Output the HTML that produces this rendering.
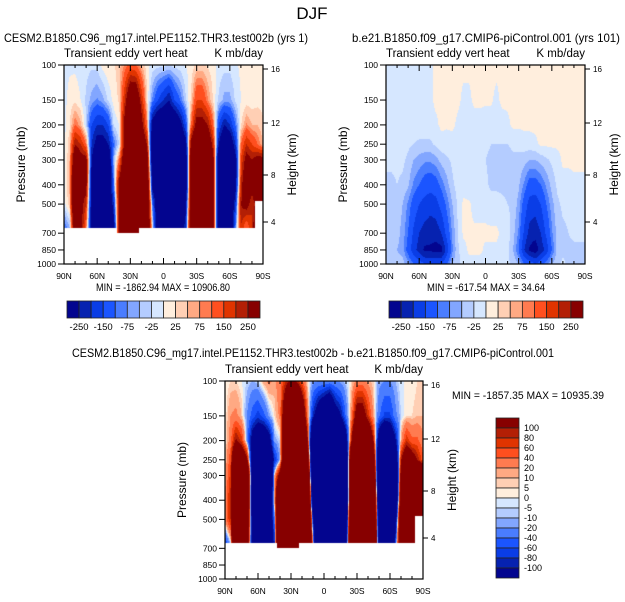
<!DOCTYPE html>
<html><head><meta charset="utf-8">
<style>
body{margin:0;background:#fff;}
#root{position:relative;width:625px;height:602px;overflow:hidden;font-family:"Liberation Sans",sans-serif;color:#000;}
svg text{font-family:"Liberation Sans",sans-serif;}
</style></head>
<body>
<div id="root">
<svg id="svg" width="625" height="602" xmlns="http://www.w3.org/2000/svg" style="position:absolute;left:0;top:0">
<text x="312" y="19" font-size="17" text-anchor="middle">DJF</text>
</svg>
</div>
<script>
// ---------- data ----------
const lats = [90,85,80,75,70,65,60,55,50,45,40,35,30,25,20,15,10,5,0,-5,-10,-15,-20,-25,-30,-35,-40,-45,-50,-55,-60,-65,-70,-75,-80,-85,-90];
const levels1 = [100,150,200,250,300,400,500,650];
const field1 = [
[-10,-10,-10,-10,-10,-10,-15,-100],
[-5,10,20,40,50,60,40,-50],
[-5,15,100,250,400,500,500,400],
[-10,0,60,200,300,300,300,300],
[-15,-30,-30,100,300,300,200,100],
[-20,-60,-150,-200,-250,-300,-300,-300],
[-15,-80,-200,-300,-400,-400,-400,-400],
[10,-60,-200,-300,-400,-400,-400,-400],
[20,-20,-150,-250,-400,-400,-400,-400],
[20,10,-20,-100,-50,-100,-200,-300],
[40,30,0,-20,100,300,300,300],
[80,200,300,300,400,500,500,500],
[120,400,500,500,500,500,500,500],
[100,400,500,500,500,500,500,500],
[50,200,300,400,500,500,500,500],
[10,30,100,250,400,500,500,500],
[-10,-80,-300,-400,-400,-300,-100,0],
[-15,-150,-400,-400,-400,-400,-400,-400],
[-15,-200,-400,-400,-400,-400,-400,-400],
[-20,-250,-400,-400,-400,-400,-400,-400],
[-15,-150,-400,-400,-400,-400,-400,-400],
[-10,-100,-300,-400,-400,-400,-400,-400],
[0,-30,-150,-300,-400,-400,-300,-200],
[10,30,100,300,400,400,400,400],
[30,150,300,500,500,500,500,500],
[30,150,300,500,500,500,500,500],
[20,80,250,400,400,400,400,400],
[10,20,100,200,300,300,300,300],
[-10,-30,-150,-250,-400,-400,-400,-400],
[-15,-60,-250,-400,-400,-400,-400,-400],
[-15,-60,-200,-350,-400,-400,-400,-400],
[-5,-20,-100,-200,-300,-300,-200,-100],
[5,0,20,100,150,200,250,200],
[5,10,80,200,300,400,300,100],
[5,10,50,150,250,300,200,200],
[10,15,50,100,300,400,300,400],
[10,15,30,50,300,400,400,400]];
const bottomP1 = [660,660,660,660,660,660,660,660,660,660,700,700,700,700,660,660,660,660,660,660,660,660,660,660,660,660,660,660,660,660,660,660,660,660,660,480,480];
const levels2 = [100,150,200,250,300,400,500,700,850,1000];
const field2 = [
[-10,-10,-10,-15,-20,-30,-40,-40,-50,-30],
[-10,-10,-10,-15,-20,-30,-40,-50,-40,-30],
[-10,-10,-10,-15,-20,-25,-30,-40,-50,-40],
[-10,-10,-10,-15,-20,-30,-50,-60,-60,-40],
[-10,-10,-10,-20,-30,-45,-80,-100,-120,-60],
[-10,-10,-15,-25,-50,-80,-120,-160,-180,-100],
[-10,-10,-10,-30,-60,-100,-150,-200,-220,-120],
[-5,-10,-10,-30,-70,-120,-170,-220,-260,-150],
[-5,-5,-10,-30,-70,-130,-180,-230,-260,-150],
[5,5,-5,-20,-60,-120,-170,-230,-270,-150],
[5,5,5,-10,-40,-90,-130,-200,-270,-150],
[5,5,3,-10,-30,-60,-90,-130,-180,-100],
[5,5,5,-10,-20,-30,-50,-70,-80,-50],
[5,5,-5,-10,-10,-15,-20,-25,-30,-30],
[5,-5,-10,-10,-10,-10,5,5,-10,-20],
[5,-5,-10,-10,-10,-20,5,5,5,-10],
[5,5,-10,-10,-10,-15,-10,5,5,-10],
[5,5,-10,-15,-20,-20,-10,5,5,-10],
[5,3,-10,-20,-25,-20,-10,5,-5,-10],
[5,3,-10,-25,-30,-30,-15,5,-5,-10],
[5,-5,-10,-25,-30,-30,-15,5,-5,-10],
[5,5,-10,-25,-30,-30,-20,-5,-10,-10],
[5,5,-5,-25,-35,-30,-25,-10,-20,-20],
[5,5,5,-20,-30,-30,-30,-40,-50,-30],
[5,5,5,-20,-30,-45,-60,-80,-100,-50],
[5,5,5,-10,-40,-80,-120,-160,-200,-100],
[5,5,5,-10,-50,-120,-170,-220,-260,-120],
[5,5,5,-5,-50,-120,-180,-230,-280,-150],
[5,5,5,5,-40,-100,-150,-200,-230,-120],
[5,5,5,5,-30,-70,-100,-140,-180,-80],
[5,5,5,5,-20,-40,-60,-80,-100,-50],
[5,5,5,5,-10,-20,-30,-40,-40,-30],
[5,5,5,5,5,-10,-20,-30,-30,-20],
[5,5,5,5,5,-10,-20,-25,-30,-30],
[5,5,5,5,5,-5,-15,-20,-30,-40],
[5,5,5,5,5,-5,-10,-20,-30,-50],
[5,5,5,5,5,-5,-10,-20,-30,-50]];
const contourLevelsAB = [-250,-200,-150,-100,-75,-50,-25,0,25,50,75,100,150,200,250];
const contourLevelsDiff = [-100,-80,-60,-40,-20,-10,-5,0,5,10,20,40,60,80,100];
const labelsAB = ["-250","-150","-75","-25","25","75","150","250"];
const labelsDiff = ["100","80","60","40","20","10","5","0","-5","-10","-20","-40","-60","-80","-100"];
const pTicks = [100,150,200,250,300,400,500,700,850,1000];
const latTicks = [90,60,30,0,-30,-60,-90];
const latTickLabels = ["90N","60N","30N","0","30S","60S","90S"];
const hTicks = ["16","12","8","4"];
const colors = ["#03058f","#0622b0","#0a3de6","#1b55ff","#4a7dff","#82a6ff","#b4ccff","#d6e7ff","#ffeedd","#ffcfb4","#ffa983","#ff7b50","#ff4f1f","#e03400","#b31f05","#870000"];

// ---------- helpers ----------
const NS="http://www.w3.org/2000/svg";
const svg=document.getElementById('svg');
svg.style.zIndex=2;
function mk(tag,attrs,parent){const e=document.createElementNS(NS,tag);for(const k in attrs)e.setAttribute(k,attrs[k]);(parent||svg).appendChild(e);return e;}
function hex(c){return [parseInt(c.slice(1,3),16),parseInt(c.slice(3,5),16),parseInt(c.slice(5,7),16)];}
const rgb=colors.map(hex);
function interp(field,levels,lat,p){
  let fi=(90-lat)/5; if(fi<0)fi=0; if(fi>36)fi=36;
  const i0=Math.min(Math.floor(fi),35), tx=fi-i0;
  const lp=Math.log(p);
  let j0=0; while(j0<levels.length-2 && lp>Math.log(levels[j0+1])) j0++;
  let ty=(lp-Math.log(levels[j0]))/(Math.log(levels[j0+1])-Math.log(levels[j0]));
  if(ty<0)ty=0; if(ty>1)ty=1;
  const a=field[i0][j0],b=field[i0+1][j0],c=field[i0][j0+1],d=field[i0+1][j0+1];
  return (a*(1-tx)+b*tx)*(1-ty)+(c*(1-tx)+d*tx)*ty;
}
function bin(v,lv){let k=0;while(k<lv.length&&v>=lv[k])k++;return k;}

function drawPanel(P){
  const g=mk('g',{});
  
  
  const yOf=p=>P.y+P.h*Math.log10(p/100);
  const xOf=lat=>P.x+P.w*(90-lat)/180;
  const cv=document.createElement('canvas');
  cv.width=P.w;cv.height=P.h;
  cv.style.cssText=`position:absolute;left:${P.x}px;top:${P.y}px;width:${P.w}px;height:${P.h}px`;
  
  
  document.getElementById('root').insertBefore(cv,svg);
  const ctx=cv.getContext('2d');const img=ctx.createImageData(P.w,P.h);
  for(let py=0;py<P.h;py++){
    const p=100*Math.pow(10,(py+0.5)/P.h);
    for(let px=0;px<P.w;px++){
      const lat=90-180*(px+0.5)/P.w;
      const k=4*(py*P.w+px);
      const v=P.value(lat,p);
      let c=[255,255,255];
      if(v!==null) c=rgb[bin(v,P.levels)];
      img.data[k]=c[0];img.data[k+1]=c[1];img.data[k+2]=c[2];img.data[k+3]=255;
    }
  }
  ctx.putImageData(img,0,0);
  const fr=mk('rect',{x:P.x,y:P.y,width:P.w,height:P.h,fill:'none',stroke:'#000','stroke-width':1.2},g);
  
  pTicks.forEach(p=>{const y=yOf(p);
    mk('line',{x1:P.x-6,x2:P.x,y1:y,y2:y,stroke:'#000','stroke-width':1},g);
    const t=mk('text',{x:P.x-8,y:y+3,'font-size':8.5,'text-anchor':'end'},g);t.textContent=p;
    });
  for(let lat=90;lat>=-90;lat-=10){const x=xOf(lat);const L=(lat%30===0)?6:3;
    mk('line',{x1:x,x2:x,y1:P.y+P.h,y2:P.y+P.h-L,stroke:'#000','stroke-width':1},g);
    mk('line',{x1:x,x2:x,y1:P.y,y2:P.y+L,stroke:'#000','stroke-width':1},g);}
  latTicks.forEach((lat,i)=>{const t=mk('text',{x:xOf(lat),y:P.y+P.h+15,'font-size':8.5,'text-anchor':'middle'},g);t.textContent=latTickLabels[i];
    });
  const hOff=[4,58,110,157];
  hTicks.forEach((h,i)=>{const y=P.y+hOff[i];
    mk('line',{x1:P.x+P.w,x2:P.x+P.w+5,y1:y,y2:y,stroke:'#000','stroke-width':1},g);
    const t=mk('text',{x:P.x+P.w+8,y:y+3,'font-size':8},g);t.textContent=h;
    });
  let t=mk('text',{x:0,y:0,'font-size':12,'text-anchor':'middle',transform:`translate(${P.x-39},${P.y+P.h/2}) rotate(-90)`},g);
  t.textContent='Pressure (mb)';
  t=mk('text',{x:0,y:0,'font-size':12,'text-anchor':'middle',transform:`translate(${P.x+P.w+33},${P.y+P.h/2}) rotate(-90)`},g);
  t.textContent='Height (km)';
  t=mk('text',{x:P.x,y:P.y-8,'font-size':11.5},g);t.textContent='Transient eddy vert heat';
  
  t=mk('text',{x:P.x+P.w,y:P.y-8,'font-size':11.5,'text-anchor':'end'},g);t.textContent='K mb/day';
  
  t=mk('text',{x:P.tx,y:P.ty,'font-size':12,textLength:P.tw,lengthAdjust:'spacingAndGlyphs'},g);t.textContent=P.title;
  
  t=mk('text',{x:P.mx,y:P.my,'font-size':11,textLength:P.mw,lengthAdjust:'spacingAndGlyphs'},g);t.textContent=P.minmax;
  
}
function hColorbar(x,y,w,h,labels,name){
  const g=mk('g',{});
  const bw=w/colors.length;
  colors.forEach((c,i)=>{const r=mk('rect',{x:x+i*bw,y:y,width:bw,height:h,fill:c,stroke:'#222','stroke-width':0.8},g);
    });
  labels.forEach((l,i)=>{const t=mk('text',{x:x+(2*i+1)*bw,y:y+h+12,'font-size':9.5,'text-anchor':'middle'},g);t.textContent=l;
    });
}
function vColorbar(x,y,w,h,labels,name){
  const g=mk('g',{});
  const bh=h/colors.length;
  colors.slice().reverse().forEach((c,i)=>{const r=mk('rect',{x:x,y:y+i*bh,width:w,height:bh,fill:c,stroke:'#222','stroke-width':0.8},g);
    });
  labels.forEach((l,i)=>{const t=mk('text',{x:x+w+5,y:y+(i+1)*bh+3,'font-size':9},g);t.textContent=l;
    });
}
function maskBottom(lat){return bottomP1[Math.round((90-lat)/5)];}
drawPanel({name:'panel-test-run',x:64,y:65,w:199,h:199,levels:contourLevelsAB,
  value:(lat,p)=>p>maskBottom(lat)?null:interp(field1,levels1,lat,p),
  title:'CESM2.B1850.C96_mg17.intel.PE1152.THR3.test002b (yrs 1)',tx:4,ty:42,tw:304,
  minmax:'MIN = -1862.94  MAX = 10906.80',mx:96,my:291,mw:134});
drawPanel({name:'panel-control-run',x:386,y:65,w:199,h:199,levels:contourLevelsAB,
  value:(lat,p)=>interp(field2,levels2,lat,p),
  title:'b.e21.B1850.f09_g17.CMIP6-piControl.001 (yrs 101)',tx:352,ty:42,tw:268,
  minmax:'MIN = -617.54  MAX =  34.64',mx:427,my:291,mw:118});
drawPanel({name:'panel-difference',x:225,y:381,w:198,h:198,levels:contourLevelsDiff,
  value:(lat,p)=>p>maskBottom(lat)?null:interp(field1,levels1,lat,p)-interp(field2,levels2,lat,p),
  title:'CESM2.B1850.C96_mg17.intel.PE1152.THR3.test002b - b.e21.B1850.f09_g17.CMIP6-piControl.001',tx:72,ty:357,tw:482,
  minmax:'MIN = -1857.35  MAX = 10935.39',mx:452,my:399,mw:152});
hColorbar(67,301,193,17,labelsAB,'colorbar-test-run');
hColorbar(389,301,194,17,labelsAB,'colorbar-control-run');
vColorbar(496,418,23,160,labelsDiff,'colorbar-difference');
</script>
</body></html>
